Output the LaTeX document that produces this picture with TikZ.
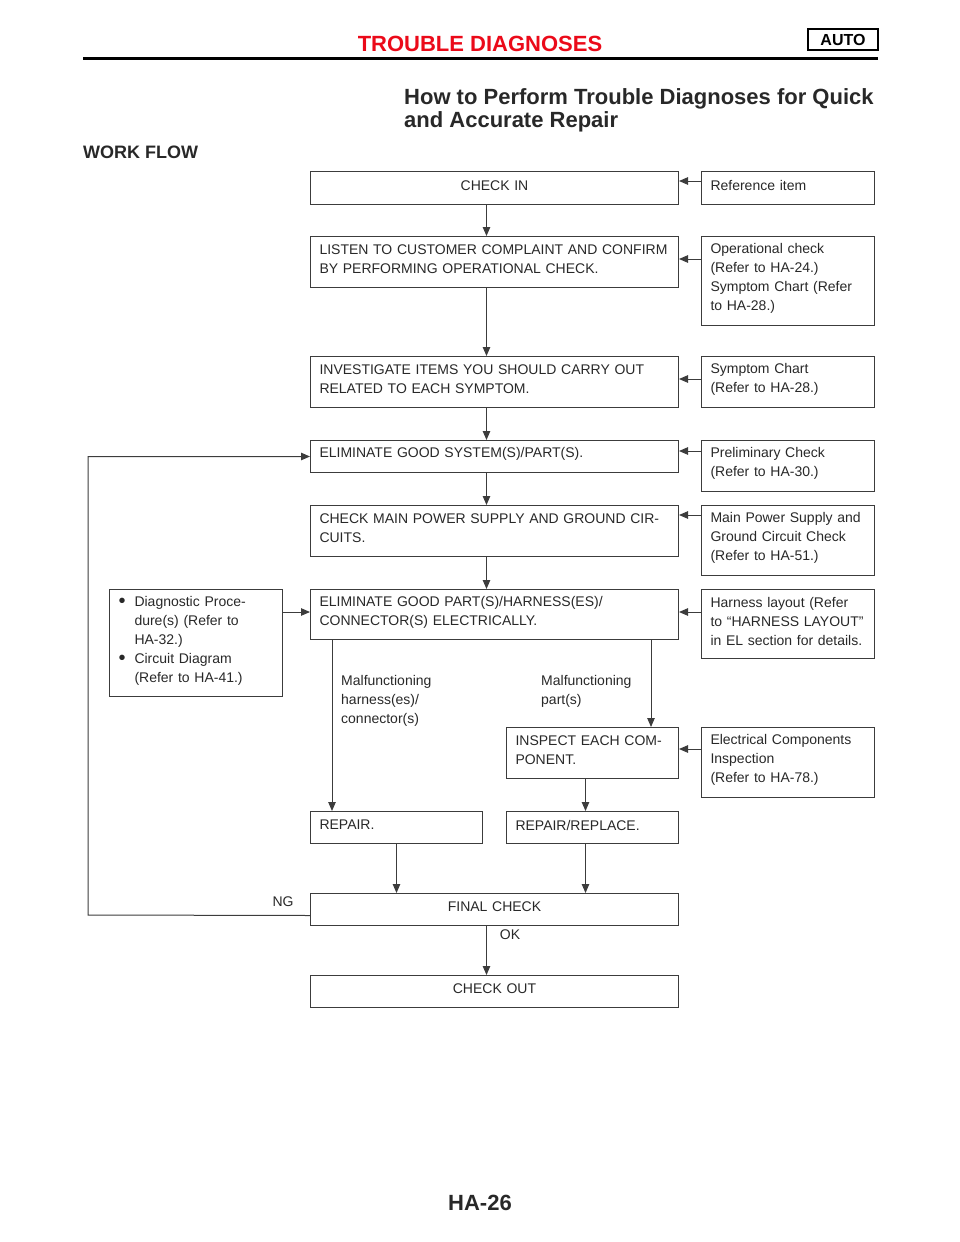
\documentclass[tikz,border=0pt]{standalone}
\usepackage{fontspec}
\setmainfont{Liberation Sans}
\usetikzlibrary{arrows.meta}
\definecolor{txtclr}{RGB}{40,40,40}
\definecolor{lineclr}{RGB}{60,60,60}
\definecolor{headclr}{RGB}{235,10,25}
\newcommand{\dotitem}{\makebox[16pt][l]{\raisebox{-1.5pt}{\fontsize{20}{19}\selectfont\textbullet}}}
\newcommand{\itemcont}{\hspace*{16pt}}
\tikzset{
  stepbox/.style={rectangle,draw=lineclr,line width=1pt,anchor=north west,
                  inner xsep=9pt,inner ysep=2pt,align=left,text=txtclr,
                  font=\fontsize{14}{19}\selectfont,
                  execute at end node={\par\vspace*{5pt}}},
  mainbox/.style={stepbox,text width=350pt,minimum height=#1},
  halfbox/.style={stepbox,text width=154pt,minimum height=#1},
  refbox/.style={stepbox,text width=155pt,minimum height=#1},
  lbl/.style={inner sep=0pt,text=txtclr,font=\fontsize{14}{19}\selectfont},
  edge/.style={-{Triangle[length=9pt,width=7.5pt]},draw=lineclr,line width=1pt},
}

\begin{document}
\begin{tikzpicture}[x=1pt,y=-1pt]
\useasboundingbox (0,0) rectangle (960,1242);

% Page head
\node[text=headclr,font=\fontsize{22}{24}\selectfont\bfseries] (hd) at (480,44) {TROUBLE DIAGNOSES};
\node[draw=black,line width=1.2pt,minimum width=70pt,minimum height=21pt,inner sep=0pt,
      font=\fontsize{16}{18}\selectfont\bfseries] (au) at (843,39.5) {AUTO};
\draw[line width=3pt] (83,58.5) -- (878,58.5);
\node[anchor=north west,align=left,inner sep=0pt,text=txtclr,
      font=\fontsize{22}{23}\selectfont\bfseries] (ttl) at (404,88)
      {How to Perform Trouble Diagnoses for Quick\\and Accurate Repair};
\node[anchor=west,inner sep=0pt,text=txtclr,font=\fontsize{18}{20}\selectfont\bfseries]
      (wf) at (83,152) {WORK FLOW};

% Main column
\node[mainbox=33pt,align=center] (c1) at (310,171) {CHECK IN};
\node[mainbox=51pt] (c2) at (310,236) {LISTEN TO CUSTOMER COMPLAINT AND CONFIRM\\BY PERFORMING OPERATIONAL CHECK.};
\node[mainbox=51pt] (c3) at (310,356) {INVESTIGATE ITEMS YOU SHOULD CARRY OUT\\RELATED TO EACH SYMPTOM.};
\node[mainbox=32pt] (c4) at (310,440) {ELIMINATE GOOD SYSTEM(S)/PART(S).};
\node[mainbox=51pt] (c5) at (310,505) {CHECK MAIN POWER SUPPLY AND GROUND CIR-\\CUITS.};
\node[mainbox=50pt] (c6) at (310,589) {ELIMINATE GOOD PART(S)/HARNESS(ES)/\\CONNECTOR(S) ELECTRICALLY.};

% Repair branch
\node[halfbox=51pt] (ins) at (506,727) {INSPECT EACH COM-\\PONENT.};
\node[halfbox=32pt] (rp) at (310,811) {REPAIR.};
\node[halfbox=32pt] (rr) at (506,811) {REPAIR/REPLACE.};
\node[mainbox=32pt,align=center] (fc) at (310,893) {FINAL CHECK};
\node[mainbox=32pt,align=center] (co) at (310,975) {CHECK OUT};

% Reference items (right)
\node[refbox=33pt] (r1) at (701,171) {Reference item};
\node[refbox=89pt] (r2) at (701,236) {Operational check\\(Refer to HA-24.)\\Symptom Chart (Refer\\to HA-28.)};
\node[refbox=51pt] (r3) at (701,356) {Symptom Chart\\(Refer to HA-28.)};
\node[refbox=51pt] (r4) at (701,440) {Preliminary Check\\(Refer to HA-30.)};
\node[refbox=70pt] (r5) at (701,505) {Main Power Supply and\\Ground Circuit Check\\(Refer to HA-51.)};
\node[refbox=69pt] (r6) at (701,589) {Harness layout (Refer\\to ``HARNESS LAYOUT''\\in EL section for details.};
\node[refbox=70pt] (r7) at (701,727) {Electrical Components\\Inspection\\(Refer to HA-78.)};

% Diagnostic procedures (left)
\node[refbox=107pt] (dg) at (109,589) {\dotitem Diagnostic Proce-\\\itemcont dure(s) (Refer to\\\itemcont HA-32.)\\\dotitem Circuit Diagram\\\itemcont (Refer to HA-41.)};

% Branch labels
\node[lbl,anchor=north west,align=left] (mh) at (341,675) {Malfunctioning\\harness(es)/\\connector(s)};
\node[lbl,anchor=north west,align=left] (mp) at (541,675) {Malfunctioning\\part(s)};
\node[lbl] (ng) at (283,902) {NG};
\node[lbl] (ok) at (510,935) {OK};

% Page number
\node[text=txtclr,font=\fontsize{22}{24}\selectfont\bfseries] (pg) at (480,1203) {HA-26};

% Wiring
\foreach \a/\b in {c1/c2,c2/c3,c3/c4,c4/c5,c5/c6,fc/co}
  \draw[edge] ([xshift=-8]\a.south) -- ([xshift=-8]\b.north);
\foreach \r/\c/\d in {r1/c1/10,r2/c2/23,r3/c3/23,r4/c4/11,r5/c5/10,r6/c6/23,r7/ins/22}
  \draw[edge] ([yshift=-\d]\r.north west) -- ([yshift=-\d]\c.north east);
\draw[edge] ([yshift=-23]dg.north east) -- ([yshift=-23]c6.north west);

\draw[edge] ([xshift=22]c6.south west) -- ([xshift=22]rp.north west);
\draw[edge] ([xshift=-28]c6.south east) -- ([xshift=-28]ins.north east);
\draw[edge] ([xshift=-7]ins.south) -- ([xshift=-7]rr.north);
\draw[edge] (rp.south) -- (rp.south |- fc.north);
\draw[edge] ([xshift=-7]rr.south) -- ([xshift=-7]rr.south |- fc.north);

% NG loop back
\coordinate (ngx) at (88,915);
\draw[edge] ([yshift=-6]fc.west) -- (ngx) |- (c4.west);

\end{tikzpicture}
\end{document}
